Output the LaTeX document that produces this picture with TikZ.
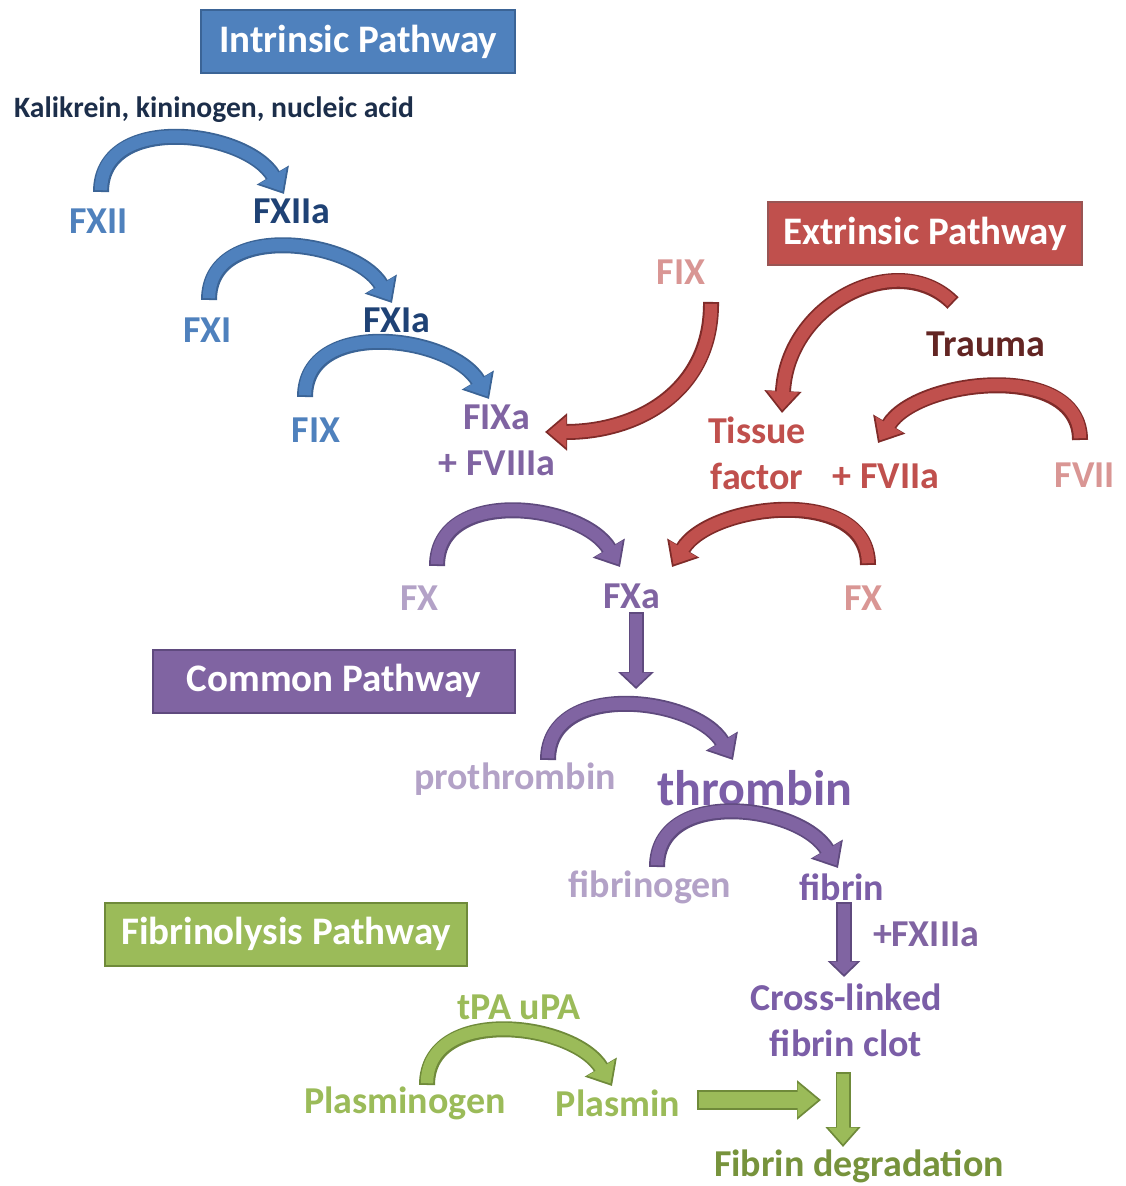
\documentclass[tikz,border=0pt]{standalone}
\usepackage{fontspec}
\setmainfont{Carlito}
\usetikzlibrary{arrows.meta,calc}
\definecolor{bluefill}{HTML}{4F81BD}
\definecolor{blueedge}{HTML}{3B6496}
\definecolor{bluedeep}{HTML}{1F4275}
\definecolor{bluenight}{HTML}{1C2E4A}
\definecolor{redfill}{HTML}{C0504D}
\definecolor{rededge}{HTML}{7F2B29}
\definecolor{redpale}{HTML}{D99694}
\definecolor{reddeep}{HTML}{632523}
\definecolor{purplefill}{HTML}{8064A2}
\definecolor{purpleedge}{HTML}{5F4A7E}
\definecolor{purplepale}{HTML}{B3A2C7}
\definecolor{purpledeep}{HTML}{7B5EA7}
\definecolor{greenfill}{HTML}{9BBB59}
\definecolor{greenedge}{HTML}{6F8A3A}
\definecolor{greendeep}{HTML}{77933C}
\newcommand{\fatarrow}[6]{%
  \pgfmathsetmacro{\arrback}{0.9*sqrt(1+(2*#5/#4)^2)}%
  \pgfmathsetmacro{\arrlen}{#5-\arrback-0.3}%
  \pgfmathsetmacro{\arrwid}{#4*\arrlen/#5}%
  \pgfmathsetmacro{\arrshaft}{#3-1.8}%
  \draw[draw=#2, line width=#3, -{Triangle[length=#5, width=#4]}] #6;
  \draw[draw=#1, line width=\arrshaft pt, shorten <=0.9pt, shorten >=\arrback pt,
    -{Triangle[length=\arrlen pt, width=\arrwid pt]}] #6;}

\begin{document}
\begin{tikzpicture}[x=0.5pt, y=-0.5pt,
  lbl/.style={font=\fontsize{19}{23}\selectfont\bfseries, inner sep=1pt, align=center},
  headbox/.style={font=\fontsize{19.5}{23}\selectfont\bfseries, text=white, draw, line width=1pt,
    minimum width=157pt, minimum height=31.5pt, inner sep=0pt},
  ]
\fill[white] (0,0) rectangle (1125,1186);
\useasboundingbox (0,0) rectangle (1125,1186);

\path (358,42) node[headbox, fill=bluefill, draw=blueedge](intr){Intrinsic Pathway};
\path (925,234) node[headbox, fill=redfill, draw=rededge!80](extr){Extrinsic Pathway};
\path (334,681) node[headbox, fill=purplefill, draw=purpleedge, minimum width=181pt](comm){Common Pathway};
\path (286,934) node[headbox, fill=greenfill, draw=greenedge, minimum width=181pt](fibrbox){Fibrinolysis Pathway};

\path (214,110) node[lbl, text=bluenight, font=\fontsize{14.8}{17}\selectfont\bfseries](kal){Kalikrein, kininogen, nucleic acid};
\path (99,221) node[lbl, text=bluefill](fxii){FXII};
\path (292,211) node[lbl, text=bluedeep](fxiia){FXIIa};
\path (208,330) node[lbl, text=bluefill](fxi){FXI};
\path (397,320) node[lbl, text=bluedeep](fxia){FXIa};
\path (316,430) node[lbl, text=bluefill](fixb){FIX};
\path (497,440) node[lbl, text=purplefill](fixa){FIXa\\+ FVIIIa};

\path (681,272) node[lbl, text=redpale](fixp){FIX};
\path (986,344) node[lbl, text=reddeep](trauma){Trauma};
\path (757,453) node[lbl, text=redfill](tissue){Tissue\\factor};
\path (886,476) node[lbl, text=redfill](fviia){+ FVIIa};
\path (1085,475) node[lbl, text=redpale](fvii){FVII};

\path (419,598) node[lbl, text=purplepale](fxl){FX};
\path (632,596) node[lbl, text=purplefill](fxa){FXa};
\path (863,598) node[lbl, text=redpale](fxr){FX};
\path (515,779) node[lbl, text=purplepale](proth){prothrombin};
\path (755,788) node[lbl, text=purpledeep, font=\fontsize{25}{30}\selectfont\bfseries](thromb){thrombin};
\path (650,887) node[lbl, text=purplepale](fibgen){fibrinogen};
\path (842,887) node[lbl, text=purpledeep](fibrin){fibrin};
\path (926,934) node[lbl, text=purplefill](fxiiia){+FXIIIa};
\path (846,1020) node[lbl, text=purpledeep](clot){Cross-linked\\fibrin clot};

\path (519,1007) node[lbl, text=greenfill](tpa){tPA uPA};
\path (405,1103) node[lbl, text=greenfill](plgen){Plasminogen};
\path (618,1103) node[lbl, text=greenfill](plasmin){Plasmin};
\path (859,1166) node[lbl, text=greendeep](degr){Fibrin degradation};

\fatarrow{bluefill}{blueedge}{8pt}{18pt}{11pt}{($(fxii)+(2,-29)$) .. controls +(0,-80) and +(-38,-64) .. ($(fxiia)+(-8,-17)$)}
\fatarrow{bluefill}{blueedge}{8pt}{18pt}{11pt}{($(fxi)+(1,-30)$) .. controls +(0,-80) and +(-38,-64) .. ($(fxia)+(-5,-17)$)}
\fatarrow{bluefill}{blueedge}{8pt}{18pt}{11pt}{($(fixb)+(-11,-33)$) .. controls +(0,-80) and +(-38,-64) .. ($(fixa)+(-8,-41)$)}

\fatarrow{redfill}{rededge}{8pt}{18pt}{11pt}{($(fixp)+(30,30)$) .. controls +(1,88) and +(94,0) .. ($(fixa)+(48,-8)$)}
\fatarrow{redfill}{rededge}{8pt}{18pt}{11pt}{($(trauma)+(-33,-41)$) .. controls +(-55,-55) and +(5,-110) .. ($(tissue)+(25,-40)$)}
\fatarrow{redfill}{rededge}{8pt}{18pt}{11pt}{($(fvii)+(-5,-35)$) .. controls +(0,-80) and +(38,-64) .. ($(fviia)+(-8,-33)$)}
\fatarrow{redfill}{rededge}{8pt}{18pt}{11pt}{($(fxr)+(5,-33)$) .. controls +(0,-80) and +(38,-64) .. ($(fxa)+(40,-29)$)}

\fatarrow{purplefill}{purpleedge}{8pt}{18pt}{11pt}{($(fxl)+(18,-32)$) .. controls +(0,-80) and +(-38,-64) .. ($(fxa)+(-12,-29)$)}
\fatarrow{purplefill}{purpleedge}{7.5pt}{17.5pt}{8.5pt}{($(fxa)+(4,16)$) -- ($(fxa)+(4,93)$)}
\fatarrow{purplefill}{purpleedge}{8pt}{18pt}{11pt}{($(proth)+(33,-19)$) .. controls +(0,-80) and +(-38,-64) .. ($(thromb)+(-22,-28)$)}
\fatarrow{purplefill}{purpleedge}{8pt}{18pt}{11pt}{($(fibgen)+(7,-20)$) .. controls +(0,-80) and +(-38,-64) .. ($(fibrin)+(-4,-19)$)}
\fatarrow{purplefill}{purpleedge}{8pt}{16pt}{8pt}{($(fibrin)+(2,15)$) -- ($(clot)+(-2,-43)$)}

\fatarrow{greenfill}{greenedge}{8pt}{18pt}{11pt}{($(plgen)+(22,-18)$) .. controls +(0,-80) and +(-38,-64) .. ($(plasmin)+(-6,-17)$)}
\fatarrow{greenfill}{greenedge}{10pt}{19pt}{12pt}{($(plasmin)+(79,-3)$) -- ($(degr)+(-38,-66)$)}
\fatarrow{greenfill}{greenedge}{7.5pt}{17pt}{10pt}{($(clot)+(-3,52)$) -- ($(degr)+(-16,-19)$)}

\end{tikzpicture}
\end{document}
